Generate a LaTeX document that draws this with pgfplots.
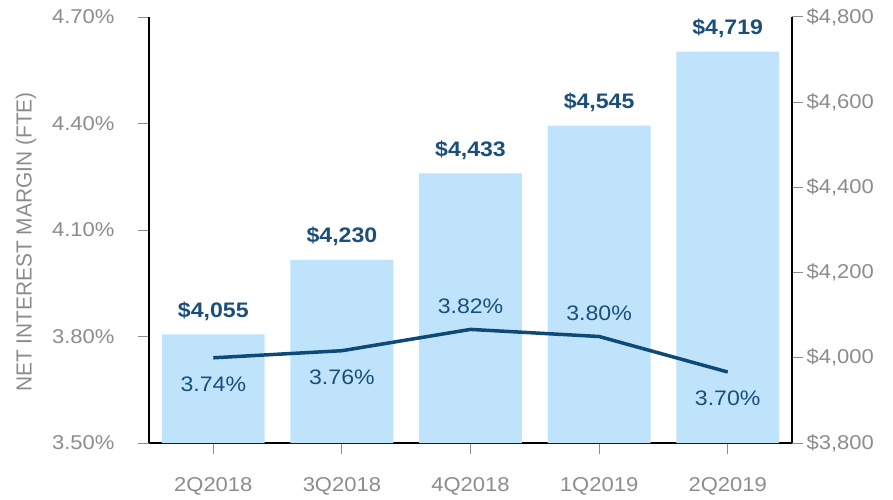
\documentclass[border=0pt]{standalone}
\usepackage{pgfplots}
\pgfplotsset{compat=1.18}
\usepackage{fontspec}
\setmainfont[FakeStretch=1.1]{Liberation Sans}
\definecolor{barblue}{HTML}{BEE3FB}
\definecolor{navy}{HTML}{0D4A78}
\definecolor{lblblue}{HTML}{1B4F7B}
\definecolor{tickgray}{HTML}{8C8C8C}
\begin{document}
\begin{tikzpicture}
\pgfplotsset{
  common/.style={
    scale only axis, width=643pt, height=426pt,
    xmin=-0.5, xmax=4.5,
    xtick={0,1,2,3,4},
    tick align=outside,
    major tick length=11pt,
    tick style={tickgray, line width=1pt},
    ticklabel style={font=\fontsize{20}{24}\selectfont, text=tickgray},
    /pgf/number format/assume math mode=true,
    axis line style={black, line width=1.8pt},
  }
}
% bars on right axis
\begin{axis}[common,
  axis y line*=right,
  axis x line*=bottom,
  xticklabels={2Q2018,3Q2018,4Q2018,1Q2019,2Q2019},
  xticklabel style={anchor=center, yshift=-32pt},
  ymin=3800, ymax=4800,
  ytick={3800,4000,4200,4400,4600,4800},
  yticklabels={{\$3,800},{\$4,000},{\$4,200},{\$4,400},{\$4,600},{\$4,800}},
  yticklabel style={anchor=west, xshift=0pt},
]
\addplot[ybar, bar width=0.8, fill=barblue, draw=none,
  nodes near coords={\textbf{\$\pgfmathprintnumber[assume math mode=true]{\pgfplotspointmeta}}},
  nodes near coords style={font=\fontsize{21}{24}\selectfont\bfseries, text=lblblue, anchor=center, yshift=23pt},
  point meta=y]
  coordinates {(0,4055) (1,4230) (2,4433) (3,4545) (4,4719)};
\end{axis}
% line on left axis
\begin{axis}[common,
  axis y line*=left,
  axis x line=none,
  ymin=3.5, ymax=4.7,
  ytick={3.5,3.8,4.1,4.4,4.7},
  yticklabels={3.50\%,3.80\%,4.10\%,4.40\%,4.70\%},
  yticklabel style={anchor=east, xshift=-20pt},
]
\addplot[navy, line width=3.5pt, mark=none] coordinates {(0,3.74) (1,3.76) (2,3.82) (3,3.80) (4,3.70)};
\begin{scope}[every node/.style={font=\fontsize{21}{24}\selectfont, text=lblblue}]
\node at (axis cs:0,3.74) [yshift=-26pt] {3.74\%};
\node at (axis cs:1,3.76) [yshift=-27pt] {3.76\%};
\node at (axis cs:2,3.82) [yshift=23pt] {3.82\%};
\node at (axis cs:3,3.80) [yshift=23pt] {3.80\%};
\node at (axis cs:4,3.70) [yshift=-26pt] {3.70\%};
\end{scope}
\end{axis}
\node[rotate=90, yscale=1.15, font=\fontsize{19}{22}\selectfont, text=tickgray] at (-123pt,201pt) {NET INTEREST MARGIN (FTE)};
\pgfresetboundingbox
\path (-149pt,-56pt) rectangle (744pt,443pt);
\end{tikzpicture}
\end{document}
